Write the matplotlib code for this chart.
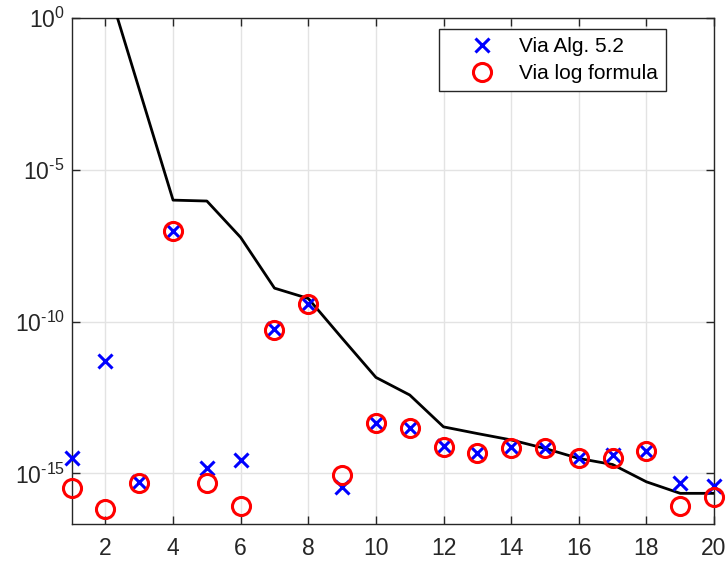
import numpy as np
import matplotlib
matplotlib.use("Agg")
import matplotlib.pyplot as plt

# data (log10 of the values)
n = np.arange(1, 21)
bound_log = [3.5, 1.3, -2.35, -6.0, -6.03, -7.23, -8.9, -9.24, -10.55, -11.84,
             -12.42, -13.47, -13.69, -13.90, -14.18, -14.51, -14.71, -15.28, -15.66, -15.66]
alg_log = [-14.51, -11.29, -15.30, -7.02, -14.84, -14.56, -10.26, -9.42, -15.44, -13.33,
           -13.52, -14.09, -14.32, -14.12, -14.18, -14.51, -14.40, -14.27, -15.33, -15.41]
logf_log = [-15.50, -16.16, -15.33, -7.02, -15.33, -16.08, -10.28, -9.42, -15.06, -13.33,
            -13.52, -14.12, -14.32, -14.15, -14.17, -14.49, -14.49, -14.27, -16.08, -15.79]
ytick_exp = [-15, -10, -5, 0]

bound = 10.0 ** np.array(bound_log)
alg = 10.0 ** np.array(alg_log)
logf = 10.0 ** np.array(logf_log)

plt.rcParams['font.family'] = ['Liberation Sans', 'DejaVu Sans']
plt.rcParams['mathtext.fontset'] = 'custom'
plt.rcParams['mathtext.rm'] = 'Liberation Sans'
plt.rcParams['mathtext.it'] = 'Liberation Sans'

axcol = '#262626'

fig = plt.figure(figsize=(7.28, 5.66), dpi=100)
ax = fig.add_axes([0.0984, 0.0742, 0.8824, 0.894])

ax.plot(n, bound, color='black', lw=2.0, zorder=3)
ax.plot(n, alg, 'x', color='blue', ms=10, mew=2.2, label='Via Alg. 5.2',
        zorder=4, clip_on=False)
ax.plot(n, logf, 'o', color='red', mfc='none', ms=13, mew=2.2, label='Via log formula',
        zorder=5, clip_on=False)

ax.set_yscale('log')
ax.set_xlim(1, 20)
ax.set_ylim(10 ** -16.67, 1)
ax.set_xticks(np.arange(2, 21, 2))
ax.set_yticks([10.0 ** e for e in ytick_exp])
ax.yaxis.set_minor_locator(matplotlib.ticker.NullLocator())
ax.set_yticklabels([r'$10^{\text{%d}}$' % e for e in ytick_exp])

ax.grid(True, color='#e3e3e3', lw=1.0)
ax.set_axisbelow(True)
ax.tick_params(direction='in', length=6, width=1.0, colors=axcol, labelsize=16.5,
               top=True, right=True, labelcolor=axcol)
ax.tick_params(axis='x', pad=9)
ax.tick_params(axis='y', pad=5)
for s in ax.spines.values():
    s.set_color(axcol)
    s.set_linewidth(1.0)

leg = ax.legend(loc='upper right', bbox_to_anchor=(0.925, 0.979), borderaxespad=0,
                fancybox=False, framealpha=1, edgecolor=axcol, fontsize=15,
                handletextpad=0.1, borderpad=0.4, labelspacing=0.38, handlelength=3.3)
leg.get_frame().set_linewidth(1.0)

fig.savefig('out.png', dpi=100)
